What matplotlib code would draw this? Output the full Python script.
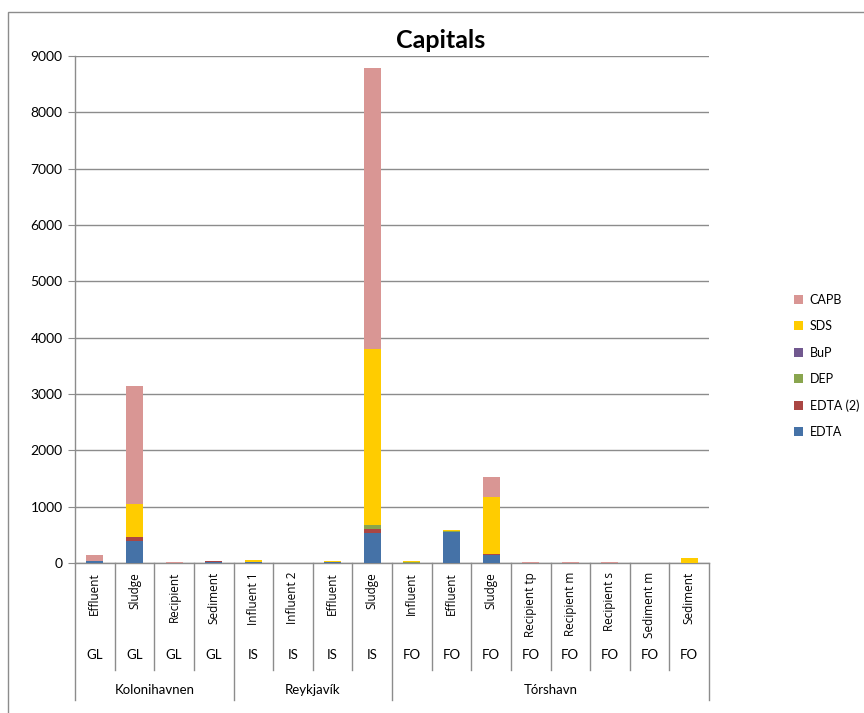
import matplotlib
matplotlib.use("Agg")
import matplotlib.pyplot as plt
from matplotlib.patches import Rectangle, Patch
import numpy as np

plt.rcParams['font.family'] = ['Lato', 'DejaVu Sans']

# ---- data ----
samples = ["Effluent", "Sludge", "Recipient", "Sediment",
           "Influent 1", "Influent 2", "Effluent", "Sludge",
           "Influent", "Effluent", "Sludge", "Recipient tp", "Recipient m",
           "Recipient s", "Sediment m", "Sediment"]
countries = ["GL"] * 4 + ["IS"] * 4 + ["FO"] * 8
groups = ["Kolonihavnen", "Reykjavík", "Tórshavn"]
group_sizes = [4, 4, 8]

EDTA   = [30, 390, 0, 10, 20, 0, 10, 530, 5, 550, 140, 0, 0, 0, 0, 5]
EDTA2  = [0, 70, 0, 20, 0, 0, 0, 75, 0, 0, 15, 0, 0, 0, 0, 0]
DEP    = [0, 0, 0, 0, 0, 0, 10, 70, 10, 10, 0, 0, 0, 0, 5, 0]
BuP    = [0, 0, 0, 0, 0, 0, 0, 0, 0, 0, 10, 0, 0, 0, 0, 0]
SDS    = [5, 590, 0, 0, 30, 0, 10, 3120, 15, 25, 1005, 0, 0, 0, 0, 90]
CAPB   = [100, 2095, 10, 10, 0, 0, 0, 4990, 0, 0, 355, 10, 10, 10, 0, 0]

series_names = ["EDTA", "EDTA (2)", "DEP", "BuP", "SDS", "CAPB"]
series_vals = [EDTA, EDTA2, DEP, BuP, SDS, CAPB]
colors = ["#4572A7", "#AA4643", "#89A54E", "#71588F", "#FFCC00", "#D99694"]

W, H = 864, 713
fig = plt.figure(figsize=(W / 100, H / 100), dpi=100)
ax_l, ax_r, ax_t, ax_b = 75, 709, 56, 563
ax = fig.add_axes([ax_l / W, 1 - ax_b / H, (ax_r - ax_l) / W, (ax_b - ax_t) / H])

x = np.arange(len(samples))
bottom = np.zeros(len(samples))
handles = []
for name, vals, c in zip(series_names, series_vals, colors):
    v = np.array(vals, dtype=float)
    ax.bar(x, v, bottom=bottom, width=0.43, color=c, zorder=3, label=name)
    bottom += v
    handles.append(Patch(facecolor=c, label=name))

ax.set_xlim(-0.5, len(samples) - 0.5)
ax.set_ylim(0, 9000)
ax.set_yticks(np.arange(0, 9001, 1000))
ax.yaxis.grid(True, color="#8c8c8c", linewidth=1.0, zorder=0)
ax.set_axisbelow(True)
for s in ["top", "right"]:
    ax.spines[s].set_visible(False)
for s in ["left", "bottom"]:
    ax.spines[s].set_color("#8c8c8c")
    ax.spines[s].set_linewidth(1.0)
ax.tick_params(axis="y", length=5, color="#8c8c8c", labelsize=10, pad=4)
ax.set_xticks([])

# multi-level category axis
ax_h = ax_b - ax_t
tr = ax.get_xaxis_transform()
def ay(px):
    return -px / ax_h

label_family = ["Open Sans", "DejaVu Sans"]
sample_texts = []
for i, (s, c) in enumerate(zip(samples, countries)):
    t = ax.text(i, ay(9), s, rotation=90, ha="center", va="top", fontsize=10,
                family=label_family, transform=tr, clip_on=False)
    sample_texts.append(t)
    ax.text(i, ay(92), c, ha="center", va="center", fontsize=9.5,
            transform=tr, clip_on=False)

# fit rotated label size so the longest label spans ~66 px like the reference
fig.canvas.draw()
rend = fig.canvas.get_renderer()
longest = max(t.get_window_extent(rend).height for t in sample_texts)
new_size = 10 * 66.0 / longest
for t in sample_texts:
    t.set_fontsize(new_size)

# separators
group_edges = np.cumsum([0] + group_sizes) - 0.5
for k in range(len(samples) + 1):
    xe = k - 0.5
    depth = 137 if xe in group_edges else 107
    ax.plot([xe, xe], [0, ay(depth)], color="#8c8c8c", lw=1.0,
            transform=tr, clip_on=False)
for g, a, b in zip(groups, group_edges[:-1], group_edges[1:]):
    ax.text((a + b) / 2, ay(127), g, ha="center", va="center", fontsize=9.5,
            transform=tr, clip_on=False)

# title
fig.text(441 / W, 1 - 40 / H, "Capitals", ha="center", va="center",
         fontsize=18, fontweight="bold")

# legend
fig.legend(handles=handles[::-1], loc="center left", frameon=False,
           bbox_to_anchor=(789 / W, 1 - 366 / H), fontsize=9,
           handlelength=0.75, handleheight=0.75, handletextpad=0.5,
           labelspacing=1.15, borderaxespad=0)

# outer chart frame
fig.patches.append(Rectangle((7.5 / W, -0.1), (W + 20) / W, 1.1 - 12.5 / H,
                             transform=fig.transFigure, fill=False,
                             edgecolor="#8c8c8c", lw=1.0))

fig.savefig("out.png", dpi=100)
